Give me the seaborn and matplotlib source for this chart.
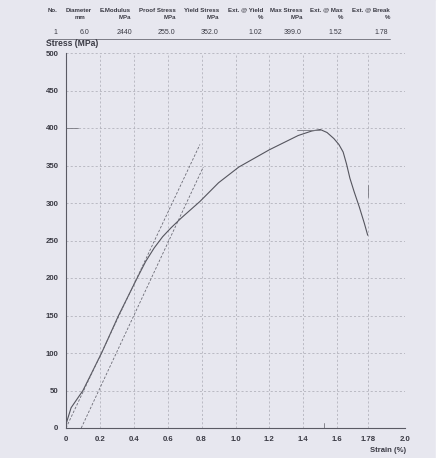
import matplotlib
matplotlib.use("Agg")
import matplotlib.pyplot as plt
import seaborn as sns
import pandas as pd

# test curve
strain = [0, 0.03, 0.1, 0.21, 0.31, 0.42, 0.47, 0.52, 0.57, 0.62, 0.68, 0.79, 0.9, 1.02,
          1.2, 1.37, 1.45, 1.5, 1.54, 1.58, 1.61, 1.635, 1.655, 1.675, 1.7, 1.73, 1.76, 1.78]
stress = [5, 27, 50, 100, 150, 200, 222, 240, 255, 267, 280, 302, 327, 348,
          371, 390, 396, 398, 394, 386, 378, 368, 352, 333, 315, 295, 273, 257]

# modulus line and offset line
modulus_x = [0.0, 0.79]
modulus_y = [0, 378]
offset_x = [0.09, 0.81]
offset_y = [0, 348]

# results table
headers = ["No.", "Diameter", "E.Modulus", "Proof Stress", "Yield Stress",
           "Ext. @ Yield", "Max Stress", "Ext. @ Max", "Ext. @ Break"]
units = ["", "mm", "MPa", "MPa", "MPa", "%", "MPa", "%", "%"]
values = ["1", "6.0", "2440", "255.0", "352.0", "1.02", "399.0", "1.52", "1.78"]

x_ticks = [0, 0.2, 0.4, 0.6, 0.8, 1.0, 1.2, 1.4, 1.6, 1.78, 2.0]
x_labels = ["0", "0.2", "0.4", "0.6", "0.8", "1.0", "1.2", "1.4", "1.6", "1.78", "2.0"]
y_ticks = [0, 50, 100, 150, 200, 250, 300, 350, 400, 450, 500]

W, H = 442, 458
paper = "#e7e7ef"
ink = "#3a3a44"

sns.set_style("white")
plt.rcParams["font.family"] = ["Liberation Sans", "DejaVu Sans"]

fig = plt.figure(figsize=(W / 100, H / 100), dpi=100, facecolor=paper)
ax = fig.add_axes([66 / W, (H - 428) / H, 339 / W, 375 / H])
ax.set_facecolor(paper)

df = pd.DataFrame({"strain": strain, "stress": stress})
sns.lineplot(data=df, x="strain", y="stress", sort=False, ax=ax,
             color="#55555e", lw=0.8)
sns.lineplot(x=modulus_x, y=modulus_y, ax=ax, color="#6a6a74", lw=0.6, linestyle=(0, (3, 2)))
sns.lineplot(x=offset_x, y=offset_y, ax=ax, color="#6a6a74", lw=0.6, linestyle=(0, (3, 2)))

# small report markers
ax.plot([0, 0.07], [400, 400], color="#77777f", lw=0.6)
ax.plot([1.36, 1.5], [398, 398], color="#77777f", lw=0.6)
ax.plot([1.52, 1.52], [0, 7], color="#77777f", lw=0.6)
ax.plot([1.78, 1.78], [308, 324], color="#77777f", lw=0.6)

ax.set_xlim(0, 2.0)
ax.set_ylim(0, 500)
ax.set_xticks(x_ticks)
ax.set_xticklabels(x_labels)
ax.set_yticks(y_ticks)
ax.grid(True, color="#a8a8b2", lw=0.5, linestyle=(0, (3, 3)))
for s in ["top", "right"]:
    ax.spines[s].set_visible(False)
for s in ["left", "bottom"]:
    ax.spines[s].set_color("#5a5a64")
    ax.spines[s].set_linewidth(0.8)
ax.tick_params(axis="both", length=2.5, width=0.6, color="#5a5a64", pad=3,
               labelsize=5.6, labelcolor=ink)
for lab in ax.get_xticklabels() + ax.get_yticklabels():
    lab.set_fontweight("bold")
ax.set_xlabel("")
ax.set_ylabel("")

fig.text(46 / W, 1 - 43 / H, "Stress (MPa)", fontsize=6.2, fontweight="bold",
         color=ink, ha="left", va="center")
fig.text(406 / W, 1 - 451 / H, "Strain (%)", fontsize=5.5, fontweight="bold",
         color=ink, ha="right", va="center")

# table
head_right = [None, 92, 131, 176, 219, 263, 303, 343, 390]
unit_right = [None, 85, 131, 176, 219, 263, 303, 343, 390]
val_right = [None, 89, 132, 175, 218, 262, 302, 342, 388]
for i in range(len(headers)):
    if i == 0:
        fig.text(48 / W, 1 - 10 / H, headers[i], fontsize=4.4, fontweight="bold",
                 color=ink, ha="left", va="center")
        fig.text(55 / W, 1 - 32 / H, values[i], fontsize=5, color=ink,
                 ha="center", va="center")
        continue
    fig.text(head_right[i] / W, 1 - 10 / H, headers[i], fontsize=4.4, fontweight="bold",
             color=ink, ha="right", va="center")
    fig.text(unit_right[i] / W, 1 - 17.5 / H, units[i], fontsize=4.4, fontweight="bold",
             color=ink, ha="right", va="center")
    fig.text(val_right[i] / W, 1 - 32 / H, values[i], fontsize=5, color=ink,
             ha="right", va="center")
fig.add_artist(plt.Line2D([48 / W, 390 / W], [1 - 39 / H, 1 - 39 / H], color="#6a6a74", lw=0.6))

# edge of the scanned sheet
fig.add_artist(plt.Rectangle((436 / W, 0), 6 / W, 1, color="white", transform=fig.transFigure))

fig.savefig("out.png", dpi=100, facecolor=paper)
